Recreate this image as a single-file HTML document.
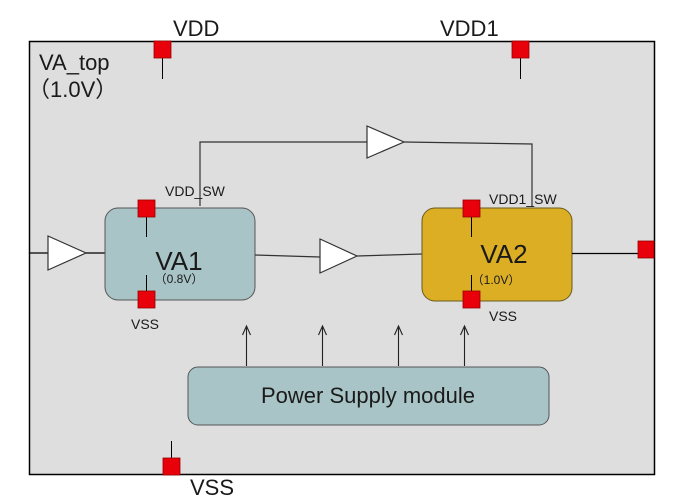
<!DOCTYPE html>
<html><head><meta charset="utf-8"><style>
html,body{margin:0;padding:0;background:#fff;}
svg{display:block;}
text{font-family:"Liberation Sans","Noto Sans CJK SC",sans-serif;fill:#1a1a1a;}
</style></head><body>
<svg width="692" height="501" viewBox="0 0 692 501" xmlns="http://www.w3.org/2000/svg">
<rect x="0" y="0" width="692" height="501" fill="#fff"/>
<rect x="29.5" y="41.5" width="625" height="433" fill="#dedede" stroke="#000" stroke-width="1.5"/>

<text x="173" y="36" font-size="22">VDD</text>
<text x="440" y="36" font-size="22">VDD1</text>
<text x="39" y="70" font-size="22">VA_top</text>
<text x="28" y="97" font-size="22">（1.0V）</text>

<line x1="162.5" y1="58" x2="162.5" y2="79" stroke="#000"/>
<rect x="154" y="41" width="17" height="17" fill="#e8000b" stroke="#900" stroke-width="0.8"/>
<line x1="520.5" y1="58" x2="520.5" y2="79" stroke="#000"/>
<rect x="512" y="41" width="17" height="17" fill="#e8000b" stroke="#900" stroke-width="0.8"/>

<polyline points="200,206 200,142 367,142" fill="none" stroke="#333" stroke-width="1.2"/>
<polyline points="404,142 532,144 532,207" fill="none" stroke="#333" stroke-width="1.2"/>
<polygon points="367,126 404,142 367,158" fill="#fff" stroke="#333" stroke-width="1.2"/>

<line x1="29" y1="253" x2="48" y2="253" stroke="#000" stroke-width="1.2"/>
<polygon points="48,236 86,253 48,270" fill="#fff" stroke="#333" stroke-width="1.2"/>
<line x1="86" y1="253" x2="105" y2="253" stroke="#000" stroke-width="1.2"/>

<rect x="105" y="208" width="150" height="92" rx="13" fill="#a9c4c6" stroke="#555" stroke-width="1"/>
<text x="179" y="270" font-size="26" text-anchor="middle">VA1</text>
<text x="179" y="283" font-size="12" text-anchor="middle">（0.8V）</text>
<text x="165" y="196" font-size="14">VDD_SW</text>
<line x1="146.5" y1="217" x2="146.5" y2="237" stroke="#000"/>
<rect x="138" y="200" width="17" height="17" fill="#e8000b" stroke="#900" stroke-width="0.8"/>
<line x1="146.5" y1="275" x2="146.5" y2="291" stroke="#000"/>
<rect x="138" y="291" width="17" height="17" fill="#e8000b" stroke="#900" stroke-width="0.8"/>
<text x="131" y="329" font-size="14">VSS</text>

<line x1="255" y1="255" x2="320" y2="257" stroke="#333" stroke-width="1.2"/>
<polygon points="320,239 357,256 320,273" fill="#fff" stroke="#333" stroke-width="1.2"/>
<line x1="357" y1="256" x2="422" y2="254" stroke="#333" stroke-width="1.2"/>

<rect x="422" y="208" width="150" height="93" rx="13" fill="#dcae24" stroke="#6a5a20" stroke-width="1"/>
<text x="504" y="263" font-size="26" text-anchor="middle">VA2</text>
<text x="496" y="284" font-size="12" text-anchor="middle">（1.0V）</text>
<text x="489" y="204" font-size="14">VDD1_SW</text>
<line x1="471.5" y1="217" x2="471.5" y2="237" stroke="#000"/>
<rect x="463" y="200" width="17" height="17" fill="#e8000b" stroke="#900" stroke-width="0.8"/>
<line x1="471.5" y1="275" x2="471.5" y2="291" stroke="#000"/>
<rect x="463" y="291" width="17" height="17" fill="#e8000b" stroke="#900" stroke-width="0.8"/>
<text x="489" y="321" font-size="14">VSS</text>

<line x1="572" y1="253.5" x2="638" y2="253.5" stroke="#000" stroke-width="1.2"/>
<rect x="638" y="241" width="16" height="17" fill="#e8000b" stroke="#900" stroke-width="0.8"/>

<g stroke="#222" stroke-width="1.1" fill="none">
<line x1="246.5" y1="366" x2="246.5" y2="326"/><polyline points="242.5,335 246.5,326 250.5,335"/>
<line x1="322.5" y1="366" x2="322.5" y2="326"/><polyline points="318.5,335 322.5,326 326.5,335"/>
<line x1="398.5" y1="366" x2="398.5" y2="326"/><polyline points="394.5,335 398.5,326 402.5,335"/>
<line x1="464.5" y1="366" x2="464.5" y2="326"/><polyline points="460.5,335 464.5,326 468.5,335"/>
</g>

<rect x="188" y="367" width="361" height="58" rx="10" fill="#a9c4c6" stroke="#555" stroke-width="1"/>
<text x="368" y="397" font-size="22" text-anchor="middle" dominant-baseline="middle">Power Supply module</text>

<line x1="171.5" y1="441" x2="171.5" y2="458" stroke="#000"/>
<rect x="163" y="458" width="17" height="17" fill="#e8000b" stroke="#900" stroke-width="0.8"/>
<text x="190" y="495" font-size="22">VSS</text>
</svg>
</body></html>
